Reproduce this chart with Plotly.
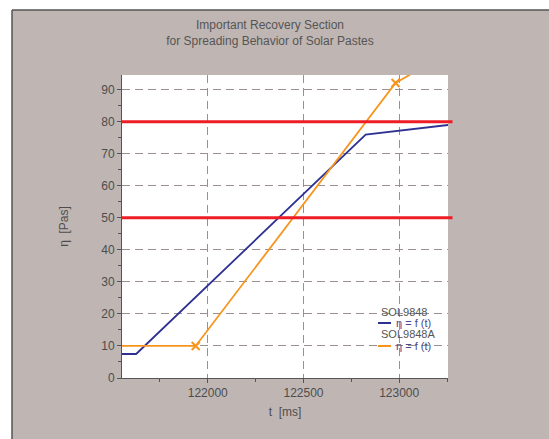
import plotly.graph_objects as go

# ---- data ----
blue_t = [121500, 121626, 122825, 123300]
blue_eta = [7.5, 7.5, 76.0, 79.3]
orange_t = [121500, 121937, 122981, 123300]
orange_eta = [10.0, 10.0, 92.1, 103.2]
limit_levels = [50, 80]
x_ticks = [122000, 122500, 123000]
x_tick_labels = ["122000", "122500", "123000"]
y_ticks = [0, 10, 20, 30, 40, 50, 60, 70, 80, 90]
series_names = ["SOL9848", "SOL9848A"]
item_label = "η = f (t)"

W, H = 549, 439
L, R, T, B = 122, 101, 75, 61
PW, PH = W - L - R, H - T - B

def px(x):
    return (x - L) / PW

def py(y):
    return (H - B - y) / PH

BG = "#BFB6B3"
BLUE = "#2E3192"
ORANGE = "#F7941D"
RED = "#EE1C25"
GRID = "#9A918E"
TXT = "#4D4D4D"

fig = go.Figure()
fig.add_trace(go.Scatter(x=blue_t, y=blue_eta, mode="lines",
                         line=dict(color=BLUE, width=1.8), showlegend=False))
fig.add_trace(go.Scatter(x=orange_t, y=orange_eta, mode="lines+markers",
                         line=dict(color=ORANGE, width=1.8),
                         marker=dict(symbol="x-thin", size=8,
                                     line=dict(color=ORANGE, width=2)),
                         showlegend=False))

shapes = []
# page frame: white strips top / left and dark border
shapes.append(dict(type="rect", xref="paper", yref="paper", x0=px(-5), x1=px(W + 5),
                   y0=py(10), y1=py(-5), fillcolor="white", line=dict(width=0), layer="above"))
shapes.append(dict(type="rect", xref="paper", yref="paper", x0=px(-5), x1=px(12),
                   y0=py(H + 5), y1=py(-5), fillcolor="white", line=dict(width=0), layer="above"))
shapes.append(dict(type="line", xref="paper", yref="paper", x0=px(12), x1=px(W + 5),
                   y0=py(10), y1=py(10), line=dict(color="#555555", width=1.5)))
shapes.append(dict(type="line", xref="paper", yref="paper", x0=px(12), x1=px(12),
                   y0=py(10), y1=py(H + 5), line=dict(color="#555555", width=1.5)))
# limit lines
for lv in limit_levels:
    shapes.append(dict(type="line", xref="paper", yref="y", x0=0, x1=px(452.5),
                       y0=lv, y1=lv, line=dict(color=RED, width=3), layer="above"))

# manual legend
leg_x = 379
rows = [(312, 323, BLUE), (334, 346, ORANGE)]
annotations = []
for name, (ty, iy, col) in zip(series_names, rows):
    annotations.append(dict(xref="paper", yref="paper", x=px(leg_x), y=py(ty),
                            xanchor="left", yanchor="middle", showarrow=False,
                            text=name, font=dict(family="Liberation Sans", size=11, color="#555555")))
    annotations.append(dict(xref="paper", yref="paper", x=px(394), y=py(iy),
                            xanchor="left", yanchor="middle", showarrow=False,
                            text=item_label, font=dict(family="Liberation Sans", size=11, color="#4A4A8A")))
    shapes.append(dict(type="line", xref="paper", yref="paper", x0=px(378), x1=px(391),
                       y0=py(iy), y1=py(iy), line=dict(color=col, width=2), layer="above"))

fig.update_layout(
    width=W, height=H,
    margin=dict(l=L, r=R, t=T, b=B, autoexpand=False),
    paper_bgcolor=BG, plot_bgcolor="white",
    font=dict(family="Liberation Sans", size=12, color=TXT),
    title=dict(text="Important Recovery Section<br>for Spreading Behavior of Solar Pastes",
               xref="container", yref="container", x=270 / W, xanchor="center",
               y=1 - 29 / H, yanchor="top",
               font=dict(family="Liberation Sans", size=12, color="#555555")),
    shapes=shapes, annotations=annotations,
)
fig.update_xaxes(range=[121552, 123255], tickvals=x_ticks, ticktext=x_tick_labels,
                 ticks="outside", ticklen=4,
                 tickcolor="#555555", showline=True, linecolor="#555555", linewidth=1,
                 showgrid=True, gridcolor=GRID, griddash="8px,5px", gridwidth=1,
                 minor=dict(dtick=250, ticks="outside", ticklen=3, tickcolor="#555555", showgrid=False),
                 zeroline=False, mirror=False,
                 title=dict(text="t  [ms]", standoff=8, font=dict(size=12, color=TXT)))
fig.update_yaxes(range=[0, 94.6], tickvals=y_ticks, ticks="outside", ticklen=4,
                 tickcolor="#555555", showline=True, linecolor="#555555", linewidth=1,
                 showgrid=True, gridcolor=GRID, griddash="8px,5px", gridwidth=1,
                 minor=dict(dtick=5, ticks="outside", ticklen=3, tickcolor="#555555", showgrid=False),
                 zeroline=False,
                 title=dict(text="η  [Pas]", standoff=30, font=dict(size=12, color=TXT)))

fig.write_html("out.html")
